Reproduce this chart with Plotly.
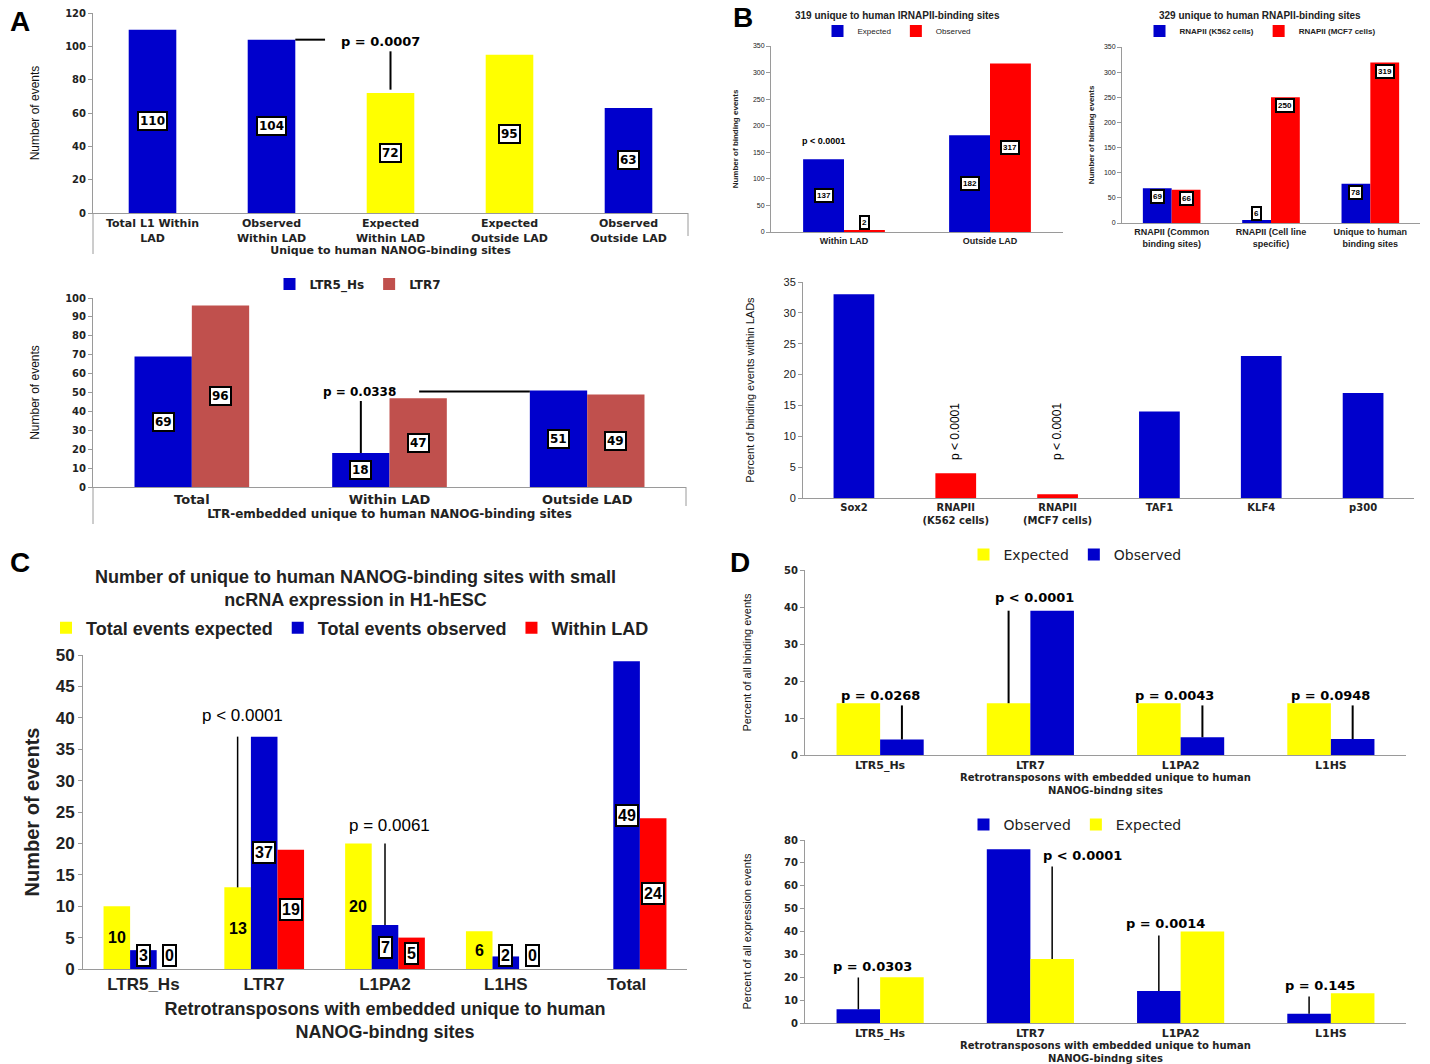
import plotly.graph_objects as go
import numpy as np

# ---------------- DATA ----------------
A1_categories = ["Total L1 Within<br>LAD", "Observed<br>Within LAD", "Expected<br>Within LAD",
                 "Expected<br>Outside LAD", "Observed<br>Outside LAD"]
A1_values = [110, 104, 72, 95, 63]
A1_pvalue = "p = 0.0007"

A2_categories = ["Total", "Within LAD", "Outside LAD"]
A2_ltr5 = [69, 18, 51]
A2_ltr7 = [96, 47, 49]
A2_pvalue = "p = 0.0338"

B1_categories = ["Within LAD", "Outside LAD"]
B1_expected = [137, 182]
B1_observed = [2, 317]
B1_pvalue = "p < 0.0001"

B2_categories = ["RNAPII (Common<br>binding sites)", "RNAPII (Cell line<br>specific)",
                 "Unique to human<br>binding sites"]
B2_k562 = [69, 6, 78]
B2_mcf7 = [66, 250, 319]

B3_categories = ["Sox2", "RNAPII<br>(K562 cells)", "RNAPII<br>(MCF7 cells)", "TAF1", "KLF4", "p300"]
B3_values = [33, 4, 0.6, 14, 23, 17]
B3_pvalues = [None, "p < 0.0001", "p < 0.0001", None, None, None]

C_categories = ["LTR5_Hs", "LTR7", "L1PA2", "L1HS", "Total"]
C_expected = [10, 13, 20, 6, None]
C_observed = [3, 37, 7, 2, 49]
C_within = [0, 19, 5, 0, 24]
C_pvalues = [None, "p < 0.0001", "p = 0.0061", None, None]

D_categories = ["LTR5_Hs", "LTR7", "L1PA2", "L1HS"]
D1_expected = [14, 14, 14, 14]
D1_observed = [4.2, 39, 4.8, 4.3]
D1_pvalues = ["p = 0.0268", "p < 0.0001", "p = 0.0043", "p = 0.0948"]
D2_observed = [6, 76, 14, 4]
D2_expected = [20, 28, 40, 13]
D2_pvalues = ["p = 0.0303", "p < 0.0001", "p = 0.0014", "p = 0.145"]

# ---------------- STYLE ----------------
BLUE = "#0000CC"
YELLOW = "#FFFF00"
RED = "#FF0000"
BROWN = "#C0504D"
ARIAL = "Liberation Sans, Arial, sans-serif"
WIDE = "DejaVu Sans, Liberation Sans, Arial, sans-serif"
W, H = 1430, 1064

fig = go.Figure()


def nm(n):
    s = "" if n == 1 else str(n)
    return "x" + s, "y" + s, "xaxis" + s, "yaxis" + s


def fnt(size, family, weight="normal", color="#222"):
    return dict(size=size, family=family, weight=weight, color=color)


def setup_axes(n, xpx, ypx, yrange, dtick, cats, xfont, yfont, ytitle, ytfont, ystand,
               xtitle=None, xtfont=None, xstand=4):
    xr, yr, xa, ya = nm(n)
    xd = dict(domain=[xpx[0] / W, xpx[1] / W], anchor=yr, range=[-0.5, len(cats) - 0.5],
              tickvals=list(range(len(cats))), ticktext=cats, showline=True, linecolor="#9a9a9a",
              linewidth=1, ticks="", tickfont=xfont, showgrid=False, zeroline=False,
              fixedrange=True, automargin=False)
    if xtitle:
        xd["title"] = dict(text=xtitle, font=xtfont, standoff=xstand)
    yd = dict(domain=[1 - ypx[1] / H, 1 - ypx[0] / H], anchor=xr, range=list(yrange), dtick=dtick,
              showline=True, linecolor="#9a9a9a", linewidth=1, ticks="outside", ticklen=4,
              tickcolor="#9a9a9a", tickfont=yfont, showgrid=False, zeroline=False, fixedrange=True,
              automargin=False, title=dict(text=ytitle, font=ytfont, standoff=ystand))
    fig.update_layout(**{xa: xd, ya: yd})


def add_bars(n, series, width, legend=None):
    xr, yr, _, _ = nm(n)
    k = len(series)
    centers = []
    for i, (vals, name, color) in enumerate(series):
        off = -k * width / 2 + i * width
        fig.add_trace(go.Bar(x=np.arange(len(vals)), y=vals, name=name,
                             marker=dict(color=color, line=dict(width=0)),
                             width=width, offset=off, xaxis=xr, yaxis=yr,
                             showlegend=legend is not None, legend=legend or "legend"))
        centers.append(np.arange(len(vals)) + off + width / 2)
    return centers


def label(n, x, y, text, size, family, box=True, weight="bold", angle=0):
    xr, yr, _, _ = nm(n)
    fig.add_annotation(x=x, y=y, xref=xr, yref=yr, text=text, showarrow=False, textangle=angle,
                       xanchor="center", yanchor="middle",
                       font=fnt(size, family, weight, "black"),
                       bgcolor="white" if box else "rgba(0,0,0,0)",
                       bordercolor="black", borderwidth=2 if box else 0, borderpad=1)


def paper_text(xpx, ypx, text, font):
    fig.add_annotation(x=xpx / W, y=1 - ypx / H, xref="paper", yref="paper", text=text,
                       showarrow=False, xanchor="center", yanchor="middle", font=font)


def seg(n, x0, y0, x1, y1, width=1.5):
    xr, yr, _, _ = nm(n)
    fig.add_shape(type="line", xref=xr, yref=yr, x0=x0, y0=y0, x1=x1, y1=y1,
                  line=dict(color="black", width=width))


def pframe(xpx, y0px, y1px):
    fig.add_shape(type="line", xref="paper", yref="paper", x0=xpx / W, x1=xpx / W,
                  y0=1 - y0px / H, y1=1 - y1px / H, line=dict(color="#9a9a9a", width=1))


def legend_cfg(xc, ypx, font):
    return dict(x=xc / W, y=1 - ypx / H, xanchor="center", yanchor="middle", orientation="h",
                font=font, bgcolor="rgba(0,0,0,0)", itemwidth=30, tracegroupgap=0,
                itemclick=False)


# ---------------- PANEL A (top) ----------------
setup_axes(1, (93, 688), (13, 213), (0, 120), 20, A1_categories, fnt(11, WIDE, "bold"),
           fnt(10, WIDE, "bold"), "Number of events", fnt(12, ARIAL, color="#111"), 22,
           "Unique to human NANOG-binding sites", fnt(11, WIDE, "bold"), 0)
A1_colors = [BLUE, BLUE, YELLOW, YELLOW, BLUE]
cA1 = add_bars(1, [(A1_values, "A", A1_colors)], 0.40)
for i, v in enumerate(A1_values):
    label(1, cA1[0][i], v / 2, str(v), 12, WIDE)
seg(1, cA1[0][1] + 0.2, A1_values[1], 1.45, A1_values[1], 2)
label(1, 1.92, 103, A1_pvalue, 13, WIDE, box=False)
seg(1, cA1[0][2], A1_values[2] + 2, cA1[0][2], 97, 2)
pframe(93, 213, 254)
pframe(688, 213, 236)

# ---------------- PANEL A (bottom) ----------------
setup_axes(2, (93, 686), (298, 487), (0, 100), 10, A2_categories, fnt(13, WIDE, "bold"),
           fnt(10, WIDE, "bold"), "Number of events", fnt(12, ARIAL, color="#111"), 22,
           "LTR-embedded unique to human NANOG-binding sites", fnt(12, WIDE, "bold"), 4)
cA2 = add_bars(2, [(A2_ltr5, "LTR5_Hs", BLUE), (A2_ltr7, "LTR7", BROWN)], 0.29, legend="legend")
for s, vals in enumerate([A2_ltr5, A2_ltr7]):
    for i, v in enumerate(vals):
        label(2, cA2[s][i], v / 2, str(v), 12, WIDE)
label(2, 0.85, 50.5, A2_pvalue, 12, WIDE, box=False)
seg(2, cA2[0][1], A2_ltr5[1], cA2[0][1], 45.5, 2)
seg(2, 1.15, A2_ltr5[2] - 0.5, cA2[0][2] - 0.145, A2_ltr5[2] - 0.5, 2)
pframe(93, 487, 524)
pframe(686, 487, 506)

# ---------------- PANEL B (top-left) ----------------
setup_axes(3, (771, 1063), (46, 232), (0, 350), 50, B1_categories, fnt(9, ARIAL, "bold"),
           fnt(7, ARIAL), "Number of binding events", fnt(8, ARIAL, "bold"), 13)
cB1 = add_bars(3, [(B1_expected, "Expected", BLUE), (B1_observed, "Observed", RED)], 0.28,
               legend="legend2")
for s, vals in enumerate([B1_expected, B1_observed]):
    for i, v in enumerate(vals):
        label(3, cB1[s][i], max(v / 2, 17), str(v), 8, ARIAL)
label(3, cB1[0][0], 171, B1_pvalue, 9, ARIAL, box=False)
paper_text(897, 15, "319 unique to human lRNAPII-binding sites", fnt(10, ARIAL, "bold"))

# ---------------- PANEL B (top-right) ----------------
setup_axes(4, (1122, 1420), (47, 223), (0, 350), 50, B2_categories, fnt(9, ARIAL, "bold"),
           fnt(7, ARIAL), "Number of binding events", fnt(8, ARIAL, "bold"), 8)
cB2 = add_bars(4, [(B2_k562, "RNAPII (K562 cells)", BLUE), (B2_mcf7, "RNAPII (MCF7 cells)", RED)],
               0.29, legend="legend3")
for s, vals in enumerate([B2_k562, B2_mcf7]):
    for i, v in enumerate(vals):
        label(4, cB2[s][i], max(v - 17, 18), str(v), 8, ARIAL)
paper_text(1260, 15, "329 unique to human RNAPII-binding sites", fnt(10, ARIAL, "bold"))

# ---------------- PANEL B (bottom) ----------------
setup_axes(5, (803, 1414), (282, 498), (0, 35), 5, B3_categories, fnt(10, WIDE, "bold"),
           fnt(11, ARIAL), "Percent of binding events within LADs", fnt(11, ARIAL, color="#111"), 26)
B3_colors = [BLUE, RED, RED, BLUE, BLUE, BLUE]
cB3 = add_bars(5, [(B3_values, "B3", B3_colors)], 0.40)
for i, p in enumerate(B3_pvalues):
    if p:
        label(5, cB3[0][i], 10.8, p, 12, ARIAL, box=False, weight="normal", angle=-90)

# ---------------- PANEL C ----------------
fC = fnt(18, ARIAL, "bold")
setup_axes(6, (83, 687), (655, 969), (0, 50), 5, C_categories, fnt(17, ARIAL, "bold"),
           fnt(17, ARIAL, "bold"), "Number of events", fnt(20, ARIAL, "bold"), 10,
           "Retrotransposons with embedded unique to human<br>NANOG-bindng sites", fC, 8)
cC = add_bars(6, [(C_expected, "Total events expected", YELLOW),
                  (C_observed, "Total events observed", BLUE),
                  (C_within, "Within LAD", RED)], 0.22, legend="legend4")
for i, v in enumerate(C_expected):
    if v is not None:
        label(6, cC[0][i], v / 2, str(v), 16, ARIAL, box=False)
for s, vals in [(1, C_observed), (2, C_within)]:
    for i, v in enumerate(vals):
        label(6, cC[s][i], max(v / 2, 2.2), str(v), 16, ARIAL)
for i, p in enumerate(C_pvalues):
    if p:
        exp_v, obs_v = C_expected[i], C_observed[i]
        lo_s = 0 if exp_v < obs_v else 1
        ty = 40.3 if i == 1 else 22.8
        label(6, cC[lo_s][i] + 0.04, ty, p, 17, ARIAL, box=False, weight="normal")
        seg(6, cC[lo_s][i], min(exp_v, obs_v), cC[lo_s][i], max(exp_v, obs_v), 1.5)
paper_text(355, 588, "Number of unique to human NANOG-binding sites with small<br>ncRNA expression in H1-hESC",
           fnt(18, ARIAL, "bold"))

# ---------------- PANEL D (top) ----------------
fDt = fnt(11, WIDE, "bold")
fDx = fnt(10, WIDE, "bold")
setup_axes(7, (805, 1406), (570, 755), (0, 50), 10, D_categories, fDt, fnt(10, WIDE, "bold"),
           "Percent of all binding events", fnt(11, ARIAL, color="#111"), 30,
           "Retrotransposons with embedded unique to human<br>NANOG-bindng sites", fDx, 1)
cD1 = add_bars(7, [(D1_expected, "Expected", YELLOW), (D1_observed, "Observed", BLUE)], 0.29,
               legend="legend5")
D1_text_y = [16.2, 42.7, 16.2, 16.2]
D1_text_x = [0.0, 1.03, 1.96, 3.0]
for i, p in enumerate(D1_pvalues):
    lo_s = 0 if D1_expected[i] < D1_observed[i] else 1
    lo = min(D1_expected[i], D1_observed[i])
    hi = max(D1_expected[i], D1_observed[i])
    label(7, D1_text_x[i], D1_text_y[i], p, 13, WIDE, box=False)
    seg(7, cD1[lo_s][i], lo, cD1[lo_s][i], min(hi, D1_text_y[i] - 2.8), 2)

# ---------------- PANEL D (bottom) ----------------
setup_axes(8, (805, 1406), (840, 1023), (0, 80), 10, D_categories, fDt, fnt(10, WIDE, "bold"),
           "Percent of all expression events", fnt(11, ARIAL, color="#111"), 30,
           "Retrotransposons with embedded unique to human<br>NANOG-bindng sites", fDx, 1)
cD2 = add_bars(8, [(D2_observed, "Observed", BLUE), (D2_expected, "Expected", YELLOW)], 0.29,
               legend="legend6")
D2_text_y = [24.9, 73.4, 43.3, 16.6]
D2_text_x = [-0.05, 1.35, 1.90, 2.93]
for i, p in enumerate(D2_pvalues):
    lo_s = 0 if D2_observed[i] < D2_expected[i] else 1
    lo = min(D2_expected[i], D2_observed[i])
    hi = max(D2_expected[i], D2_observed[i])
    label(8, D2_text_x[i], D2_text_y[i], p, 13, WIDE, box=False)
    seg(8, cD2[lo_s][i], lo, cD2[lo_s][i], min(hi, D2_text_y[i] - 5), 1.5)

# ---------------- panel letters ----------------
for txt, x, y in [("A", 20, 22), ("B", 743, 18), ("C", 20, 562), ("D", 740, 562)]:
    paper_text(x, y, txt, fnt(28, ARIAL, "bold", "black"))

fig.update_layout(
    width=W, height=H, margin=dict(l=0, r=0, t=0, b=0, autoexpand=False), autosize=False,
    paper_bgcolor="white", plot_bgcolor="white", barmode="overlay", hovermode=False,
    legend=legend_cfg(358, 284, fnt(12, WIDE, "bold")),
    legend2=legend_cfg(897, 31, fnt(8, ARIAL)),
    legend3=legend_cfg(1260, 31, fnt(8, ARIAL, "bold")),
    legend4=legend_cfg(350, 628, fnt(18, ARIAL, "bold")),
    legend5=legend_cfg(1075, 555, fnt(14, WIDE)),
    legend6=legend_cfg(1075, 825, fnt(14, WIDE)),
)

fig.write_html("out.html", config={"displayModeBar": False},
               post_script="document.body.style.margin='0';document.body.style.overflow='hidden';")
